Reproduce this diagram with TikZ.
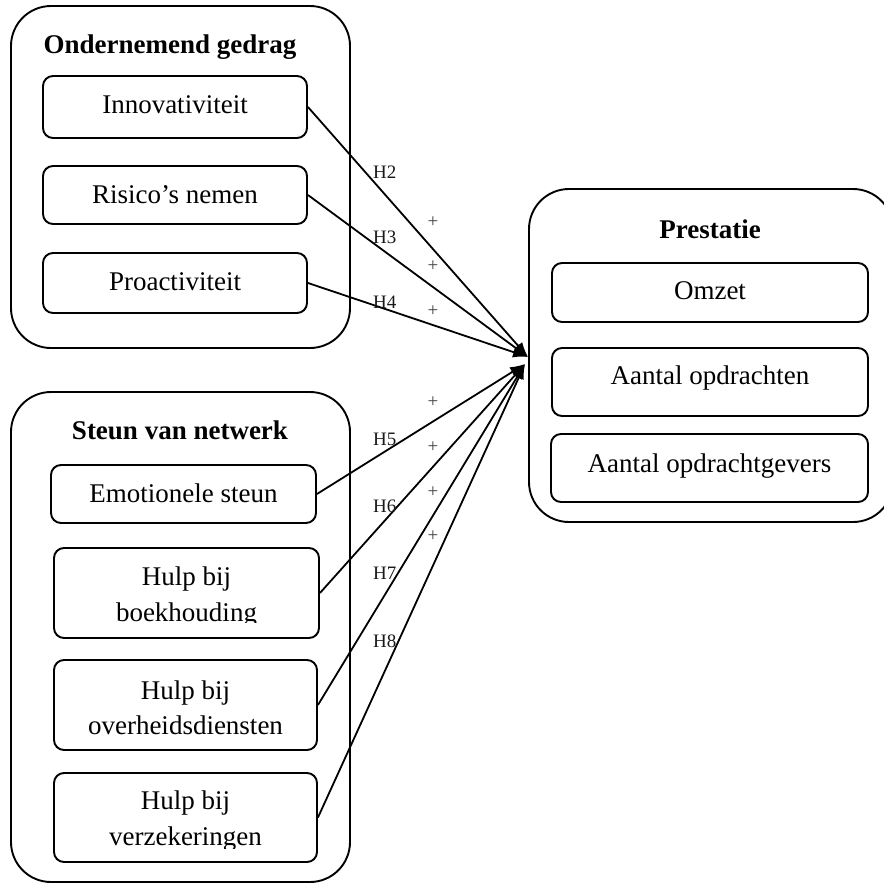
\documentclass[tikz,border=0pt]{standalone}
\usepackage{fontspec}
\setmainfont{Liberation Serif}
\usetikzlibrary{arrows.meta}
\begin{document}
\begin{tikzpicture}[x=1pt,y=-1pt,
  outerbox/.style={draw, line width=1.9pt, rounded corners=40pt, inner sep=0pt},
  innerbox/.style={draw, line width=1.9pt, rounded corners=10pt, inner sep=0pt},
  txt/.style={font=\fontsize{27}{33}\selectfont, anchor=base, inner sep=0pt},
  ttl/.style={font=\bfseries\fontsize{27}{33}\selectfont, anchor=base, inner sep=0pt},
  hlab/.style={font=\fontsize{19}{22}\selectfont, anchor=base west, inner sep=0pt, text=black!90},
  plab/.style={font=\fontsize{19}{22}\selectfont, inner sep=0pt, text=black!75},
  conn/.style={line width=1.8pt, -{Latex[length=15pt,width=11pt]}}
]
\clip (0,0) rectangle (884,884);
% ---------- Ondernemend gedrag ----------
\node[outerbox, minimum width=339pt, minimum height=342pt] (og) at (180.5,177) {};
\node[ttl] (ogt) at (170,53) {Ondernemend gedrag};
\node[innerbox, minimum width=264pt, minimum height=62pt] (innov) at (175,107) {};
\node[txt] (innovt) at (175,113) {Innovativiteit};
\node[innerbox, minimum width=264pt, minimum height=58pt] (risk) at (175,195) {};
\node[txt] (riskt) at (175,203) {Risico’s nemen};
\node[innerbox, minimum width=264pt, minimum height=60pt] (proa) at (175,283) {};
\node[txt] (proat) at (175,290) {Proactiviteit};
% ---------- Steun van netwerk ----------
\node[outerbox, minimum width=339pt, minimum height=490pt] (sn) at (180.5,637) {};
\node[ttl] (snt) at (180,439) {Steun van netwerk};
\node[innerbox, minimum width=265pt, minimum height=58pt] (emo) at (183.5,494) {};
\node[txt] (emot) at (183.5,502) {Emotionele steun};
\node[innerbox, minimum width=265pt, minimum height=90pt] (boek) at (186.5,593) {};
\node[txt] (boekt1) at (186.5,585) {Hulp bij};
\begin{scope}
  \clip (60,595) rectangle (314,622);
  \node[txt] (boekt2) at (186.5,621) {boekhouding};
\end{scope}
\node[innerbox, minimum width=263pt, minimum height=90pt] (over) at (185.5,705) {};
\node[txt] (overt1) at (185.5,699) {Hulp bij};
\node[txt] (overt2) at (185.5,734) {overheidsdiensten};
\node[innerbox, minimum width=263pt, minimum height=89pt] (verz) at (185.5,817.5) {};
\node[txt] (verzt1) at (185.5,809) {Hulp bij};
\begin{scope}
  \clip (60,820) rectangle (312,848);
  \node[txt] (verzt2) at (185.5,845) {verzekeringen};
\end{scope}
% ---------- Prestatie ----------
\node[outerbox, minimum width=364pt, minimum height=333pt] (pr) at (711,355.5) {};
\node[ttl] (prt) at (710,238) {Prestatie};
\node[innerbox, minimum width=316pt, minimum height=59pt] (omz) at (710,292.5) {};
\node[txt] (omzt) at (710,299) {Omzet};
\node[innerbox, minimum width=316pt, minimum height=68pt] (aop) at (710,382) {};
\node[txt] (aopt) at (710,384) {Aantal opdrachten};
\node[innerbox, minimum width=317pt, minimum height=68pt] (aog) at (709.5,468) {};
\node[txt] (aogt) at (709.5,472) {Aantal opdrachtgevers};
% ---------- connectors ----------
\coordinate (tipA) at (528,357);
\coordinate (tipB) at (525,364);
\draw[conn] (innov.east) -- (tipA);
\draw[conn] (risk.east) -- (tipA);
\draw[conn] (proa.east) -- (tipA);
\draw[conn] (emo.east) -- (tipB);
\draw[conn] (boek.east) -- (tipB);
\draw[conn] (over.east) -- (tipB);
\draw[conn] (verz.east) -- (tipB);
% ---------- labels ----------
\node[hlab] (h2) at (373,178) {H2};
\node[hlab] (h3) at (373,243) {H3};
\node[hlab] (h4) at (373,308) {H4};
\node[hlab] (h5) at (373,445) {H5};
\node[hlab] (h6) at (373,512) {H6};
\node[hlab] (h7) at (373,579) {H7};
\node[hlab] (h8) at (373,647) {H8};
\node[plab] (p2) at (433,222) {+};
\node[plab] (p3) at (433,266) {+};
\node[plab] (p4) at (433,311) {+};
\node[plab] (p5) at (433,402) {+};
\node[plab] (p6) at (433,447) {+};
\node[plab] (p7) at (433,492) {+};
\node[plab] (p8) at (433,536) {+};
\end{tikzpicture}
\end{document}
